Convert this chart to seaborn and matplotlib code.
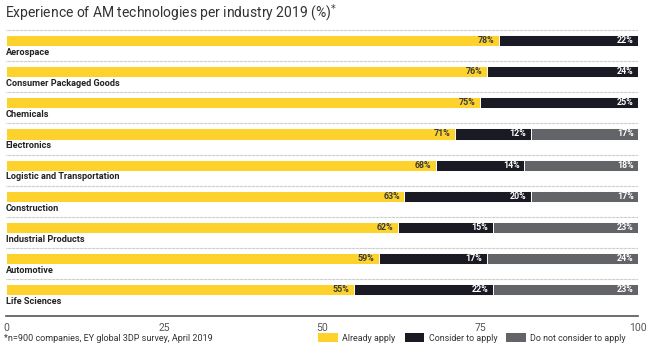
import numpy as np
import pandas as pd
import matplotlib.pyplot as plt
import seaborn as sns
from matplotlib.patches import Patch

industries = ["Aerospace", "Consumer Packaged Goods", "Chemicals", "Electronics",
              "Logistic and Transportation", "Construction", "Industrial Products",
              "Automotive", "Life Sciences"]
already = [78, 76, 75, 71, 68, 63, 62, 59, 55]
consider = [22, 24, 25, 12, 14, 20, 15, 17, 22]
not_consider = [0, 0, 0, 17, 18, 17, 23, 24, 23]
series_names = ["Already apply", "Consider to apply", "Do not consider to apply"]
colors = ["#FDD22C", "#1A1A24", "#636468"]

sns.set_style("white")
plt.rcParams['font.family'] = ['Roboto', 'DejaVu Sans']

df = pd.DataFrame({"industry": industries, "a": already, "c": consider, "n": not_consider})
df["cum_a"] = df["a"]
df["cum_c"] = df["a"] + df["c"]
df["cum_n"] = df["a"] + df["c"] + df["n"]

fig = plt.figure(figsize=(6.5, 3.51), dpi=100)
ax = fig.add_axes([0.009, 0.100, 0.973, 0.829])

# stacked by layering cumulative totals
for col, color in [("cum_n", colors[2]), ("cum_c", colors[1]), ("cum_a", colors[0])]:
    sns.barplot(data=df, x=col, y="industry", orient="h", color=color, width=0.36,
                saturation=1, edgecolor="white", linewidth=0.7, ax=ax)

# dotted separators above each bar and labels below
for i, name in enumerate(industries):
    ax.plot([0, 100], [i - 0.34, i - 0.34], linestyle=(0, (0.6, 0.6)), color="#b0b0b0", lw=0.8)
    ax.text(0, i + 0.38, name, ha="left", va="center", fontsize=6.6,
            color="#222222", fontweight="bold")

# value labels
for i in range(len(industries)):
    segs = [(already[i], df["cum_a"][i], "#3a3a3a"),
            (consider[i], df["cum_c"][i], "white"),
            (not_consider[i], df["cum_n"][i], "white")]
    for val, end, tc in segs:
        if val > 0:
            ax.text(end - 0.7, i, f"{val}%", ha="right", va="center", fontsize=6.4,
                    fontweight="bold", color=tc)

ax.set_xlim(0, 100)
ax.set_ylim(8.84, -0.5)
ax.set_xticks([0, 25, 50, 75, 100])
ax.set_yticks([])
ax.set_xlabel("")
ax.set_ylabel("")
for s in ["top", "right", "left"]:
    ax.spines[s].set_visible(False)
ax.spines["bottom"].set_color("#555555")
ax.spines["bottom"].set_linewidth(1.2)
ax.tick_params(axis="x", length=4, color="#555555", labelsize=7.5, labelcolor="#555555", pad=1)

fig.text(0.008, 0.962, "Experience of AM technologies per industry 2019 (%)$^{*}$", fontsize=10,
         color="#333333", va="center", ha="left")
fig.text(0.006, 0.037, "*n=900 companies, EY global 3DP survey, April 2019", fontsize=6.5,
         color="#333333", va="center", ha="left")

handles = [Patch(facecolor=c, edgecolor="none") for c in colors]
fig.legend(handles, series_names, loc="center right", bbox_to_anchor=(0.975, 0.037),
           ncol=3, frameon=False, fontsize=6.4, handlelength=2.2, handleheight=1.1,
           handletextpad=0.5, columnspacing=1.0, labelcolor="#333333")

fig.savefig("out.png", dpi=100, facecolor="white")
